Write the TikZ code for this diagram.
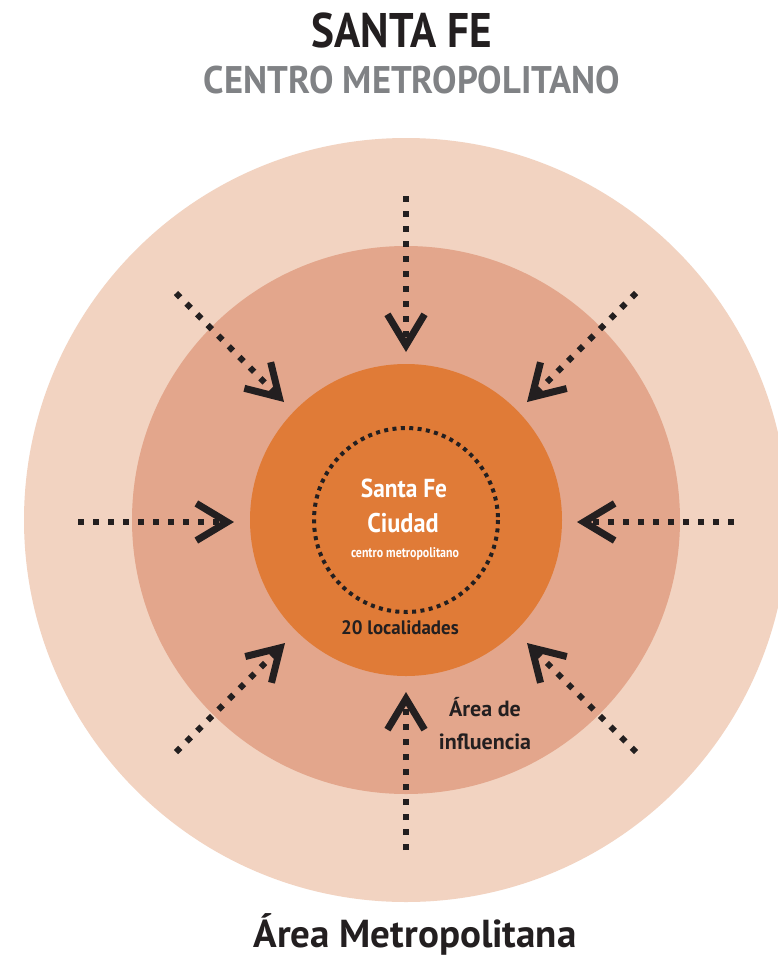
\documentclass[tikz,border=0pt]{standalone}
\usepackage{fontspec}
\setmainfont{PT Sans}
\usetikzlibrary{calc}
\definecolor{outerc}{HTML}{F2D3C1}
\definecolor{midc}{HTML}{E3A68C}
\definecolor{innerc}{HTML}{E07B37}
\definecolor{darkc}{HTML}{231F20}
\definecolor{grayc}{HTML}{808285}
\tikzset{
  dotline/.style={draw=darkc, line width=6pt, dash pattern=on 6pt off 9pt},
  chev/.style={draw=darkc, line width=7pt, miter limit=10, line join=miter},
  lbl/.style={anchor=base, inner sep=0pt, font=\bfseries, text=darkc},
}
\newcommand\flowarrow[2]{%
  \coordinate (#2j) at ($(#2)!6.8pt!(#1)$);
  \draw[dotline] (#1) -- (#2j);
  \draw[chev] ($(#2j)!36pt!31:(#1)$) -- (#2j) -- ($(#2j)!36pt!-31:(#1)$);
}
\begin{document}
\begin{tikzpicture}[x=1pt,y=-1pt]
\clip (0,0) rectangle (778,956);
\fill[white] (0,0) rectangle (778,956);
\coordinate (C) at (406,520);
\fill[outerc] (C) circle[radius=382];
\fill[midc] (C) circle[radius=274];
\fill[innerc] (C) circle[radius=156];
\draw[darkc, line width=4pt, dash pattern=on 4pt off 4.4pt] (C) circle[radius=92];
% arrows
\coordinate (s1) at (406,196); \coordinate (t1) at (406,352);
\coordinate (s2) at (406,850); \coordinate (t2) at (406,692);
\coordinate (s3) at (78,522);  \coordinate (t3) at (234,522);
\coordinate (s4) at (734,522); \coordinate (t4) at (577,522);
\coordinate (s5) at (176,293); \coordinate (t5) at (284,402);
\coordinate (s6) at (636,293); \coordinate (t6) at (527,402);
\coordinate (s7) at (176,752); \coordinate (t7) at (285,643);
\coordinate (s8) at (636,752); \coordinate (t8) at (527,643);
\flowarrow{s1}{t1}
\flowarrow{s2}{t2}
\flowarrow{s3}{t3}
\flowarrow{s4}{t4}
\flowarrow{s5}{t5}
\flowarrow{s6}{t6}
\flowarrow{s7}{t7}
\flowarrow{s8}{t8}
% texts
\node[lbl, font=\bfseries\fontsize{48.6}{50}\selectfont] (title) at (402,47) {\scalebox{0.89}[1]{SANTA FE}};
\node[lbl, text=grayc, font=\bfseries\fontsize{38.5}{40}\selectfont] (sub) at (412,93) {\scalebox{0.95}[1]{CENTRO METROPOLITANO}};
\node[lbl, text=white, font=\bfseries\fontsize{26}{27}\selectfont] (sf) at (404,497) {\scalebox{0.9}[1]{Santa Fe}};
\node[lbl, text=white, font=\bfseries\fontsize{27}{28}\selectfont] (ciu) at (403,532) {\scalebox{0.9}[1]{Ciudad}};
\node[lbl, text=white, font=\bfseries\fontsize{14}{15}\selectfont] (cm) at (405,557) {\scalebox{0.85}[1]{centro metropolitano}};
\node[lbl, font=\bfseries\fontsize{19.5}{20}\selectfont] (loc) at (400,634) {\scalebox{0.97}[1]{20 localidades}};
\node[lbl, font=\bfseries\fontsize{22}{23}\selectfont] (ar1) at (485,716) {Área de};
\node[lbl, font=\bfseries\fontsize{22}{23}\selectfont] (ar2) at (485,749) {influencia};
\node[lbl, font=\bfseries\fontsize{39}{40}\selectfont] (am) at (415,947) {Área Metropolitana};
\end{tikzpicture}
\end{document}
